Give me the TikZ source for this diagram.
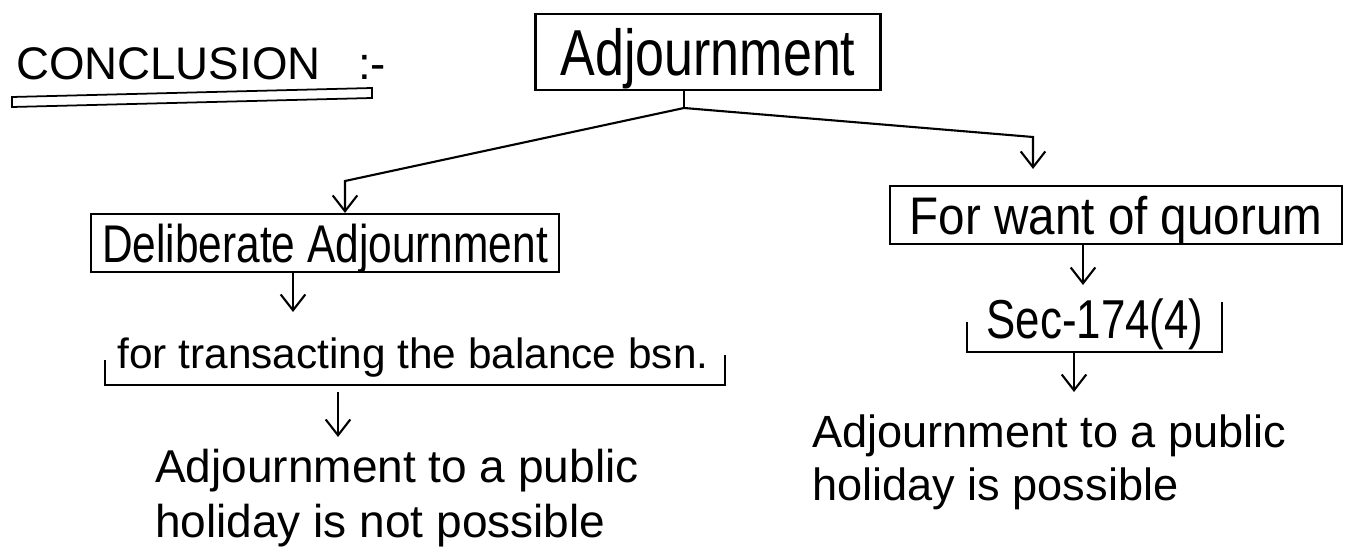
\documentclass[tikz,border=0pt]{standalone}
\usepackage{fontspec}
\setmainfont{Liberation Sans}
\newfontfamily\handn[FakeStretch=0.8]{Liberation Sans}
\newfontfamily\handm[FakeStretch=0.9]{Liberation Sans}
\usetikzlibrary{arrows.meta}
\begin{document}
\begin{tikzpicture}[x=0.02cm, y=-0.02cm, line width=1.2pt,
  arr/.style={-{Straight Barb[length=9pt,width=14pt,line width=1.2pt]}},
  box/.style={draw, inner sep=0pt, text depth=0pt},
  plain/.style={inner sep=0pt}]
\useasboundingbox[fill=white] (0,0) rectangle (1361,550);

% title
\node[plain, anchor=base west, font=\fontsize{26}{30}\selectfont] (concl) at (15,80) {CONCLUSION\hspace{0.75cm}:-};
\draw[line width=1pt] (12,97) -- (372,88) -- (372,98) -- (12,107) -- cycle;

% nodes
\node[box, minimum width=6.9cm, minimum height=1.52cm, font=\handn\fontsize{37}{40}\selectfont] (adj) at (708,52) {Adjournment};
\node[box, minimum width=9.36cm, minimum height=1.16cm, font=\handn\fontsize{30.2}{34}\selectfont] (delib) at (325,243) {Deliberate Adjournment};
\node[box, minimum width=9.04cm, minimum height=1.16cm, font=\handm\fontsize{30.1}{34}\selectfont] (quorum) at (1116,215) {For want of quorum};
\node[plain, anchor=base, font=\fontsize{24.1}{28}\selectfont] (trans) at (413,368) {for transacting the balance bsn.};
\node[plain, anchor=base, font=\handn\fontsize{31.2}{34}\selectfont] (sec) at (1095,338) {Sec-174(4)};
\node[plain, anchor=north west, align=left, font=\fontsize{26.2}{31.3}\selectfont] (resl) at (154,448) {Adjournment to a public\\holiday is not possible};
\node[plain, anchor=north west, align=left, font=\fontsize{25.7}{30.2}\selectfont] (resr) at (811,414) {Adjournment to a public\\holiday is possible};

% brackets
\draw (105,360) -- (105,385) coordinate (tb) -- (725,385) -- (725,355);
\draw (967,322) -- (967,352) coordinate (sb) -- (1222,352) -- (1222,302);

% connectors
\coordinate (j) at (684,108);
\coordinate (lk) at (345,181);
\coordinate (rk) at (1033,137);
\draw (adj.south -| j) -- (j);
\draw[arr] (j) -- (lk) -- (lk |- delib.north);
\draw[arr, shorten >=0.32cm] (j) -- (rk) -- (rk |- quorum.north);

\coordinate (d1) at (293,312);
\draw[arr] (delib.south -| d1) -- (d1);
\coordinate (d2) at (338,437);
\draw[arr] (tb -| d2) ++(0,7) -- (d2);
\coordinate (q1) at (1083,285);
\draw[arr] (quorum.south -| q1) -- (q1);
\coordinate (s1) at (1074,392);
\draw[arr] (sb -| s1) -- (s1);
\end{tikzpicture}
\end{document}
